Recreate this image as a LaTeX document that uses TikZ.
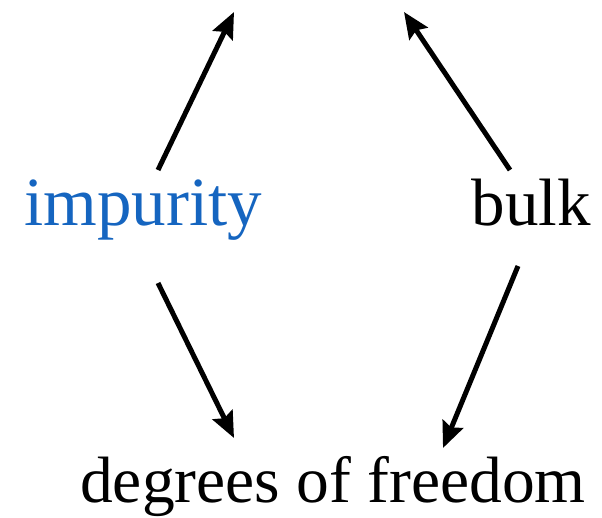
\documentclass[tikz,border=0pt]{standalone}
\usepackage{fontspec}
\setmainfont{Liberation Serif}
\usetikzlibrary{arrows.meta,calc}
\definecolor{impblue}{HTML}{1565C0}
\tikzset{
  lbl/.style={inner sep=0pt, font=\fontsize{67}{80}\selectfont},
  arr/.style={line width=5pt, -{Stealth[length=26pt,width=22pt,inset=4pt]}}
}
\begin{document}
\begin{tikzpicture}[x=1pt,y=-1pt]
\useasboundingbox (0,0) rectangle (602,517);
\node[lbl, text=impblue, anchor=base west, font=\fontsize{69}{80}\selectfont] (imp) at (24,225) {impurity};
\node[lbl, anchor=base east] (bulk) at (591,225) {bulk};
\node[lbl, anchor=base west, font=\fontsize{65.5}{80}\selectfont] (dof) at (80,502) {degrees of freedom};
\coordinate (t1) at (234,12);
\coordinate (t2) at (404,12);
\coordinate (impup) at (158,170);
\coordinate (bulkup) at (510,170);
\coordinate (impdn) at (158,283);
\coordinate (bulkdn) at (518,266);
\coordinate (d1) at (234,438);
\coordinate (d2) at (443,448);
\draw[arr] (impup) -- (t1);
\draw[arr] (bulkup) -- (t2);
\draw[arr] (impdn) -- (d1);
\draw[arr] (bulkdn) -- (d2);
\end{tikzpicture}
\end{document}
